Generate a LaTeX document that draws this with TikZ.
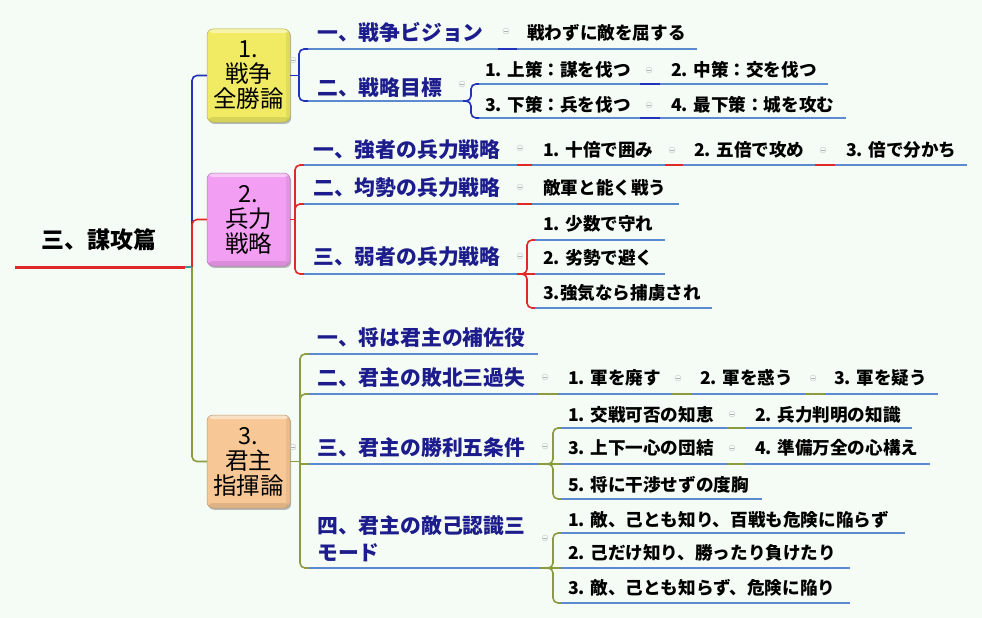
\documentclass[tikz,border=0pt]{standalone}
\usepackage{fontspec}
\setmainfont{Noto Sans CJK JP}
\usetikzlibrary{shadows}
\definecolor{bgc}{HTML}{F4FCF5}
\definecolor{navy}{HTML}{1C1C8C}
\definecolor{ulc}{HTML}{5B8AD0}
\definecolor{cblue}{HTML}{2233BB}
\definecolor{cred}{HTML}{E02828}
\definecolor{colive}{HTML}{8C9B40}
\definecolor{cteal}{HTML}{3A9C9C}
\definecolor{ylw}{HTML}{F0EB62}
\definecolor{pnk}{HTML}{F29EF2}
\definecolor{pch}{HTML}{F7C896}
\newcommand\ulin[4]{\coordinate (#1s) at (#2,#4);\coordinate (#1e) at (#3,#4);\draw[ul] (#1s) -- (#1e);}
\begin{document}
\begin{tikzpicture}[x=1pt,y=-1pt,
  t2/.style={font=\fontsize{20.8}{27}\selectfont\bfseries, text=navy, anchor=west, inner sep=0pt, text height=18.3pt, text depth=2.5pt},
  t3/.style={font=\fontsize{17.6}{20}\selectfont\bfseries, text=black, anchor=west, inner sep=0pt, text height=15.5pt, text depth=2.1pt},
  box/.style={rounded corners=6pt, minimum width=83pt, minimum height=93pt, inner sep=0pt, align=center,
    font=\fontsize{23.5}{25}\selectfont, drop shadow={shadow xshift=1.2pt, shadow yshift=-1.8pt, opacity=0.45, fill=black!60},
    path picture={
      \fill[white, opacity=0.45] ([yshift=-4pt]path picture bounding box.north west) rectangle (path picture bounding box.north east);
      \fill[black, opacity=0.10] ([yshift=5pt]path picture bounding box.south west) rectangle (path picture bounding box.south east);
      \fill[black, opacity=0.06] ([xshift=-4pt]path picture bounding box.north east) rectangle (path picture bounding box.south east);
    }},
  ul/.style={draw=ulc, line width=2pt},
  lb/.style={draw=cblue, line width=1.6pt, rounded corners=5pt},
  lr/.style={draw=cred, line width=1.6pt, rounded corners=5pt},
  lo/.style={draw=colive, line width=1.6pt, rounded corners=5pt},
  ic/.style={circle, draw=gray!45, line width=0.4pt, minimum size=6pt, inner sep=0pt,
    path picture={\draw[gray!60, line width=0.5pt] ([xshift=-1.6pt]path picture bounding box.center) -- ([xshift=1.6pt]path picture bounding box.center);}}
]
\useasboundingbox (0,0) rectangle (982,618);
\fill[bgc] (0,0) rectangle (982,618);

% root
\node[font=\fontsize{23}{26}\selectfont\bfseries, anchor=west, inner sep=0pt, text height=20pt, text depth=3pt] (root) at (41,240) {三、謀攻篇};
\coordinate (rs) at (15,267);
\coordinate (hubt) at (185,267);
\coordinate (hub) at (192,267);

% main boxes
\node[box, fill=ylw, draw=ylw!75!black, line width=0.5pt] (b1) at (248.5,75.5) {1.\\戦争\\全勝論};
\node[box, fill=pnk, draw=pnk!75!black, line width=0.5pt] (b2) at (248.5,219.5) {2.\\兵力\\戦略};
\node[box, fill=pch, draw=pch!75!black, line width=0.5pt] (b3) at (248.5,461.5) {3.\\君主\\指揮論};

\draw[cred, line width=3pt] (rs) -- (hubt);
\draw[cteal, line width=1.6pt] (hubt) -- (hub);
\draw[lb] (hub) |- (b1.west);
\draw[lr] (hub) |- (b2.west);
\draw[lo] (hub) |- (b3.west);

\node[ic] (ib1) at (293,60) {};
\node[ic] (ib3) at (293,447) {};

% ---------- branch 1 ----------
\coordinate (j1) at (299,75.5);
\draw[lb] (b1.east) -- (j1);
\node[t2] (A1) at (317,33) {一、戦争ビジョン};
\node[t3] (A1c) at (527,33) {戦わずに敵を屈する};
\node[t2] (A2) at (317,88) {二、戦略目標};
\node[t3] (A21) at (485,70) {1. 上策：謀を伐つ};
\node[t3] (A22) at (671,70) {2. 中策：交を伐つ};
\node[t3] (A23) at (485,105) {3. 下策：兵を伐つ};
\node[t3] (A24) at (671,105) {4. 最下策：城を攻む};
\ulin{A1}{308}{498}{49}
\ulin{A1c}{517}{697}{49}
\ulin{A2}{308}{463}{101}
\ulin{A21}{479}{640}{84}
\ulin{A22}{660}{828}{84}
\ulin{A23}{479}{640}{118}
\ulin{A24}{660}{846}{118}
\draw[lb] (j1) |- (A1s);
\draw[lb] (j1) |- (A2s);
\draw[lb] (A1e) -- (A1cs);
\draw[lb] (A2e) -- ++(8,0) |- (A21s);
\draw[lb] (A2e) -- ++(8,0) |- (A23s);
\draw[lb] (A21e) -- (A22s);
\draw[lb] (A23e) -- (A24s);
\node[ic] (iA1) at (506,31) {};
\node[ic] (iA2) at (462,84) {};
\node[ic] (iA21) at (649,70) {};
\node[ic] (iA23) at (649,105) {};

% ---------- branch 2 ----------
\coordinate (j2) at (295,219.5);
\draw[lr] (b2.east) -- (j2);
\node[t2] (B1) at (313,150) {一、強者の兵力戦略};
\node[t3] (B11) at (543,150) {1. 十倍で囲み};
\node[t3] (B12) at (694,150) {2. 五倍で攻め};
\node[t3] (B13) at (846,150) {3. 倍で分かち};
\node[t2] (B2) at (313,188) {二、均勢の兵力戦略};
\node[t3] (B21) at (543,188) {敵軍と能く戦う};
\node[t2] (B3) at (313,257) {三、弱者の兵力戦略};
\node[t3] (B31) at (543,224) {1. 少数で守れ};
\node[t3] (B32) at (543,258) {2. 劣勢で避く};
\node[t3] (B33) at (543,293) {3.強気なら捕虜され};
\ulin{B1}{304}{517}{165}
\ulin{B11}{532}{665}{165}
\ulin{B12}{683}{815}{165}
\ulin{B13}{835}{967}{165}
\ulin{B2}{304}{517}{204}
\ulin{B21}{532}{679}{204}
\ulin{B3}{304}{517}{274}
\ulin{B31}{535}{665}{240}
\ulin{B32}{535}{665}{274}
\ulin{B33}{535}{712}{308}
\draw[lr] (j2) |- (B1s);
\draw[lr] (j2) |- (B2s);
\draw[lr] (j2) |- (B3s);
\draw[lr] (B1e) -- (B11s);
\draw[lr] (B11e) -- (B12s);
\draw[lr] (B12e) -- (B13s);
\draw[lr] (B2e) -- (B21s);
\draw[lr] (B3e) -- ++(10,0) |- (B31s);
\draw[lr] (B3e) -- ++(10,0) |- (B33s);
\draw[lr] (B3e) -- (B32s);
\node[ic] (iB1) at (520,148) {};
\node[ic] (iB11) at (672,150) {};
\node[ic] (iB12) at (823,150) {};
\node[ic] (iB2) at (520,187) {};
\node[ic] (iB3) at (520,256) {};

% ---------- branch 3 ----------
\coordinate (j3) at (300,461.5);
\draw[lo] (b3.east) -- (j3);
\node[t2] (C1) at (317,338) {一、将は君主の補佐役};
\node[t2] (C2) at (317,378) {二、君主の敗北三過失};
\node[t3] (C21) at (568,378) {1. 軍を廃す};
\node[t3] (C22) at (700,378) {2. 軍を惑う};
\node[t3] (C23) at (834,378) {3. 軍を疑う};
\node[t2] (C3) at (317,448) {三、君主の勝利五条件};
\node[t3] (C31) at (568,415) {1. 交戦可否の知恵};
\node[t3] (C32) at (755,415) {2. 兵力判明の知識};
\node[t3] (C33) at (568,448) {3. 上下一心の団結};
\node[t3] (C34) at (755,448) {4. 準備万全の心構え};
\node[t3] (C35) at (568,485) {5. 将に干渉せずの度胸};
\node[t2, align=left, text height={}, text depth={}] (C4) at (317,538.5) {四、君主の敵己認識三\\モード};
\node[t3] (C41) at (568,520) {1. 敵、己とも知り、百戦も危険に陥らず};
\node[t3] (C42) at (568,553) {2. 己だけ知り、勝ったり負けたり};
\node[t3] (C43) at (568,588) {3. 敵、己とも知らず、危険に陥り};
\ulin{C1}{309}{538}{354}
\ulin{C2}{309}{538}{394}
\ulin{C21}{558}{672}{394}
\ulin{C22}{692}{805}{394}
\ulin{C23}{825}{938}{394}
\ulin{C3}{309}{538}{464}
\ulin{C31}{561}{727}{428}
\ulin{C32}{745}{912}{428}
\ulin{C33}{561}{727}{464}
\ulin{C34}{745}{930}{464}
\ulin{C35}{561}{762}{499}
\ulin{C4}{309}{540}{568}
\ulin{C41}{561}{905}{533}
\ulin{C42}{561}{850}{568}
\ulin{C43}{561}{850}{603}
\draw[lo] (j3) |- (C1s);
\draw[lo] (j3) |- (C2s);
\draw[lo, rounded corners=0pt] (j3) -- (j3 |- C3s) -- (C3s);
\draw[lo] (j3) |- (C4s);
\draw[lo] (C2e) -- (C21s);
\draw[lo] (C21e) -- (C22s);
\draw[lo] (C22e) -- (C23s);
\draw[lo] (C3e) -- ++(15,0) |- (C31s);
\draw[lo] (C3e) -- ++(15,0) |- (C35s);
\draw[lo] (C3e) -- (C33s);
\draw[lo] (C31e) -- (C32s);
\draw[lo] (C33e) -- (C34s);
\draw[lo] (C4e) -- ++(13,0) |- (C41s);
\draw[lo] (C4e) -- ++(13,0) |- (C43s);
\draw[lo] (C4e) -- (C42s);
\node[ic] (iC2) at (545,377) {};
\node[ic] (iC21) at (678,378) {};
\node[ic] (iC22) at (813,378) {};
\node[ic] (iC3) at (545,446) {};
\node[ic] (iC31) at (732,414) {};
\node[ic] (iC33) at (732,448) {};
\node[ic] (iC4) at (545,538) {};
\end{tikzpicture}
\end{document}
